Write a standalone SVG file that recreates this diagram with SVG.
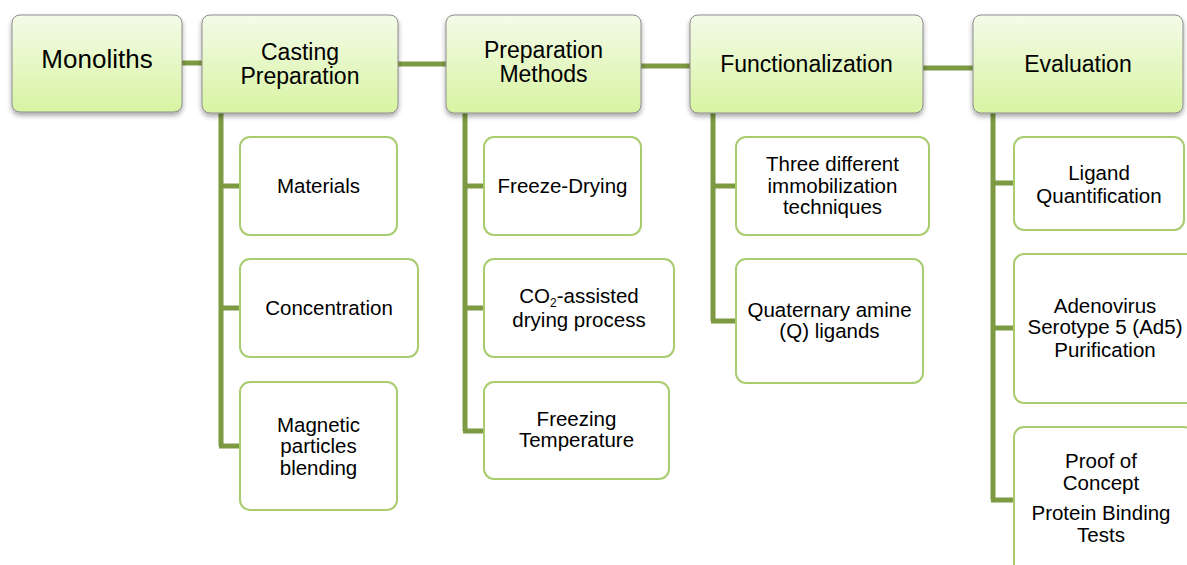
<svg xmlns="http://www.w3.org/2000/svg" width="1187" height="565" viewBox="0 0 1187 565">
<defs>
<linearGradient id="g" x1="0" y1="0" x2="0" y2="1">
<stop offset="0" stop-color="#f4fbe9"/>
<stop offset="1" stop-color="#d8f4a2"/>
</linearGradient>
<filter id="sh" x="-10%" y="-10%" width="120%" height="130%">
<feDropShadow dx="0" dy="3" stdDeviation="2.5" flood-color="#000" flood-opacity="0.35"/>
</filter>
<style>
.top{fill:url(#g);stroke:#8c8c8c;stroke-width:1;filter:url(#sh)}
.child{fill:#fff;stroke:#a9cc6e;stroke-width:2}
.t{font-family:"Liberation Sans",Arial,sans-serif;fill:#000;text-anchor:middle}
.tt{font-size:23px}
.ct{font-size:20.5px}
.con{stroke:#7d9a43;stroke-width:5;fill:none}
</style>
</defs>
<g id="connectors">
<path class="con" d="M182 63H202M398 64H446M641 66H690M923 68H973"/>
<path class="con" d="M221 113V446M219 186H240M219 308H240M219 446H240"/>
<path class="con" d="M465 113V431M463 186H484M463 308H484M463 431H484"/>
<path class="con" d="M713 113V321M711 186H736M711 321H736"/>
<path class="con" d="M993 113V500M991 183H1014M991 328H1014M991 500H1014"/>
</g>
<g id="monoliths"><rect class="top" x="12" y="15" width="170" height="97" rx="8"/><text class="t" x="97" y="68" font-size="26">Monoliths</text></g>
<g id="casting"><rect class="top" x="202" y="15" width="196" height="98" rx="8"/><text class="t tt" x="300" y="60">Casting</text><text class="t tt" x="300" y="84">Preparation</text></g>
<g id="prepmethods"><rect class="top" x="446" y="15" width="195" height="98" rx="8"/><text class="t tt" x="543.5" y="58">Preparation</text><text class="t tt" x="543.5" y="82">Methods</text></g>
<g id="functionalization"><rect class="top" x="690" y="15" width="233" height="98" rx="8"/><text class="t tt" x="806.5" y="72">Functionalization</text></g>
<g id="evaluation"><rect class="top" x="973" y="15" width="210" height="98" rx="8"/><text class="t tt" x="1078" y="72">Evaluation</text></g>

<g id="materials"><rect class="child" x="240" y="137" width="157" height="98" rx="10"/><text class="t ct" x="318.5" y="193">Materials</text></g>
<g id="concentration"><rect class="child" x="240" y="259" width="178" height="98" rx="10"/><text class="t ct" x="329" y="315">Concentration</text></g>
<g id="magnetic"><rect class="child" x="240" y="382" width="157" height="128" rx="10"/><text class="t ct" x="318.5" y="432">Magnetic</text><text class="t ct" x="318.5" y="453">particles</text><text class="t ct" x="318.5" y="475">blending</text></g>

<g id="freezedrying"><rect class="child" x="484" y="137" width="157" height="98" rx="10"/><text class="t ct" x="562.5" y="193">Freeze-Drying</text></g>
<g id="co2"><rect class="child" x="484" y="259" width="190" height="98" rx="10"/><text class="t ct" x="579" y="303">CO<tspan font-size="12" dy="4">2</tspan><tspan dy="-4">-assisted</tspan></text><text class="t ct" x="579" y="327">drying process</text></g>
<g id="freezing"><rect class="child" x="484" y="382" width="185" height="97" rx="10"/><text class="t ct" x="576.5" y="426">Freezing</text><text class="t ct" x="576.5" y="447">Temperature</text></g>

<g id="three"><rect class="child" x="736" y="137" width="193" height="98" rx="10"/><text class="t ct" x="832.5" y="171">Three different</text><text class="t ct" x="832.5" y="193">immobilization</text><text class="t ct" x="832.5" y="214">techniques</text></g>
<g id="quaternary"><rect class="child" x="736" y="259" width="187" height="124" rx="10"/><text class="t ct" x="829.5" y="317">Quaternary amine</text><text class="t ct" x="829.5" y="338">(Q) ligands</text></g>

<g id="ligand"><rect class="child" x="1014" y="137" width="170" height="93" rx="10"/><text class="t ct" x="1099" y="180">Ligand</text><text class="t ct" x="1099" y="203">Quantification</text></g>
<g id="adenovirus"><rect class="child" x="1014" y="254" width="183" height="149" rx="10"/><text class="t ct" x="1105" y="313">Adenovirus</text><text class="t ct" x="1105" y="334">Serotype 5 (Ad5)</text><text class="t ct" x="1105" y="357">Purification</text></g>
<g id="proof"><rect class="child" x="1014" y="427" width="180" height="150" rx="10"/><text class="t ct" x="1101" y="468">Proof of</text><text class="t ct" x="1101" y="490">Concept</text><text class="t ct" x="1101" y="520">Protein Binding</text><text class="t ct" x="1101" y="542">Tests</text></g>
</svg>
